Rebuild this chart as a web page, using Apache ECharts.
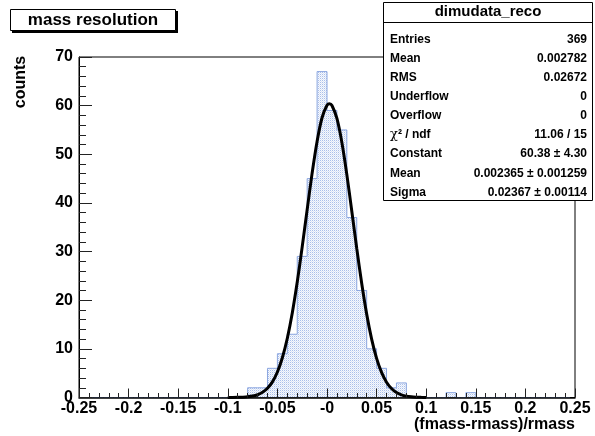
<!DOCTYPE html>
<html>
<head>
<meta charset="utf-8">
<script src="https://cdn.jsdelivr.net/npm/echarts@6/dist/echarts.min.js"></script>
<style>html,body{margin:0;padding:0;background:#fff;}#c{width:595px;height:436px;}</style>
</head>
<body>
<div id="c"></div>
<script>
// ---- data ----
const binLow = -0.25;
const binWidth = 0.01;
const binCounts = [
  0,0,0,0,0,0,0,0,0,0,
  0,0,0,0,0,0,0,2,2,6,
  9,13,29,45,67,59,55,37,22,10,
  6,2,3,0,0,0,0,1,0,1,
  0,0,0,0,0,0,0,0,0,0
];
const fitX = [-0.100,-0.095,-0.090,-0.085,-0.080,-0.075,-0.070,-0.065,-0.060,-0.055,
  -0.050,-0.045,-0.040,-0.035,-0.030,-0.025,-0.020,-0.015,-0.010,-0.005,
  0.000,0.0025,0.005,0.010,0.015,0.020,0.025,0.030,0.035,0.040,0.045,
  0.050,0.055,0.060,0.065,0.070,0.075,0.080,0.085,0.090,0.095,0.100];
const fitY = [0.01,0.01,0.03,0.07,0.14,0.29,0.57,1.06,1.89,3.21,
  5.24,8.17,12.19,17.38,23.73,30.96,38.63,46.12,52.65,57.51,
  60.07,60.38,60.02,57.36,52.42,45.82,38.30,30.63,23.43,17.14,12.01,
  8.03,5.15,3.15,1.85,1.03,0.55,0.28,0.14,0.07,0.03,0.01];
const xTickLabels = ['-0.25','-0.2','-0.15','-0.1','-0.05','-0','0.05','0.1','0.15','0.2','0.25'];
const yTickLabels = ['0','10','20','30','40','50','60','70'];
const statNames = ['Entries','Mean','RMS','Underflow','Overflow','{chi|χ}{b|² / ndf}','Constant','Mean','Sigma'];
const statValues = ['369','0.002782','0.02672','0','0','11.06 / 15','60.38 ± 4.30','0.002365 ± 0.001259','0.02367 ± 0.00114'];
const histTitle = 'mass resolution';
const statTitle = 'dimudata_reco';
const xTitle = '(fmass-rmass)/rmass';
const yTitle = 'counts';

// ---- build ----
const FONT = '"Liberation Sans", Arial, Helvetica, sans-serif';
const histData = binCounts.map((c, i) => [binLow + binWidth * (i + 0.5), c]);
const fitData = fitX.map((x, i) => [x, fitY[i]]);

// dotted fill pattern
const pc = document.createElement('canvas');
pc.width = 2; pc.height = 2;
const pctx = pc.getContext('2d');
pctx.fillStyle = '#f7f9fd'; pctx.fillRect(0, 0, 2, 2);
pctx.fillStyle = '#aabfea'; pctx.fillRect(0, 0, 1, 1);
pctx.fillStyle = '#dbe4f6'; pctx.fillRect(1, 1, 1, 1);

const chart = echarts.init(document.getElementById('c'), null, {renderer: 'canvas'});

const graphics = [];
// title box with shadow
graphics.push({type: 'rect', shape: {x: 12, y: 11, width: 166, height: 22}, style: {fill: '#000'}, z: 100});
graphics.push({type: 'rect', shape: {x: 10.5, y: 9.5, width: 165, height: 21}, style: {fill: '#fff', stroke: '#000', lineWidth: 1}, z: 101});
graphics.push({type: 'text', x: 93, y: 20.5, style: {text: histTitle, font: 'bold 17px ' + FONT, fill: '#000', align: 'center', verticalAlign: 'middle'}, z: 102});

// stats box
const sbX = 383.5, sbY = 2.5, sbW = 209, sbH = 198;
graphics.push({type: 'rect', shape: {x: sbX, y: sbY, width: sbW, height: sbH}, style: {fill: '#fff', stroke: '#000', lineWidth: 1}, z: 101});
graphics.push({type: 'text', x: sbX + sbW / 2, y: 12, style: {text: statTitle, font: 'bold 15px ' + FONT, fill: '#000', align: 'center', verticalAlign: 'middle'}, z: 102});
graphics.push({type: 'line', shape: {x1: sbX, y1: 22.5, x2: sbX + sbW, y2: 22.5}, style: {stroke: '#000', lineWidth: 1}, z: 102});
statNames.forEach((n, i) => {
  const y = 39.5 + 19.1 * i;
  graphics.push({type: 'text', x: 390, y: y, style: {
    text: n, font: 'bold 12px ' + FONT, fill: '#000', align: 'left', verticalAlign: 'middle',
    rich: {chi: {font: '13px "DejaVu Serif", serif', fill: '#000'}, b: {font: 'bold 12px ' + FONT, fill: '#000'}}
  }, z: 102});
  graphics.push({type: 'text', x: 587, y: y, style: {text: statValues[i], font: 'bold 12px ' + FONT, fill: '#000', align: 'right', verticalAlign: 'middle'}, z: 102});
});
// axis titles
graphics.push({type: 'text', x: 575, y: 425, style: {text: xTitle, font: 'bold 16px ' + FONT, fill: '#000', align: 'right', verticalAlign: 'middle'}, z: 102});
graphics.push({type: 'text', x: 21, y: 82, rotation: Math.PI / 2, style: {text: yTitle, font: 'bold 16px ' + FONT, fill: '#000', align: 'center', verticalAlign: 'middle'}, z: 102});

chart.setOption({
  animation: false,
  backgroundColor: '#fff',
  grid: {left: 79, right: 20, top: 57, bottom: 38.5, show: true, borderColor: '#000', borderWidth: 1, backgroundColor: 'transparent'},
  xAxis: {
    type: 'value', min: -0.25, max: 0.25, interval: 0.05, z: 5,
    axisLine: {show: true, onZero: false, lineStyle: {color: '#000', width: 1.5}},
    axisTick: {show: true, inside: true, length: 9, lineStyle: {color: '#222', width: 1}},
    minorTick: {show: true, splitNumber: 5, length: 4.5, lineStyle: {color: '#222', width: 1}},
    splitLine: {show: false},
    axisLabel: {show: true, margin: 3, showMinLabel: true, showMaxLabel: true, color: '#000', fontFamily: FONT, fontWeight: 'bold', fontSize: 16,
      formatter: v => xTickLabels[Math.round((v + 0.25) / 0.05)]}
  },
  yAxis: {
    type: 'value', min: 0, max: 70, interval: 10, z: 5,
    axisLine: {show: true, onZero: false, lineStyle: {color: '#000', width: 1}},
    axisTick: {show: true, inside: true, length: 13, lineStyle: {color: '#222', width: 1}},
    minorTick: {show: true, splitNumber: 5, length: 7, lineStyle: {color: '#222', width: 1}},
    splitLine: {show: false},
    axisLabel: {show: true, margin: 6, color: '#000', fontFamily: FONT, fontWeight: 'bold', fontSize: 16,
      formatter: v => yTickLabels[Math.round(v / 10)]}
  },
  series: [
    {
      type: 'line', data: histData, step: 'middle', symbol: 'none', z: 2,
      lineStyle: {color: '#8ba6e0', width: 1},
      areaStyle: {color: {image: pc, repeat: 'repeat'}, opacity: 1}
    },
    {
      type: 'line', data: fitData, smooth: 0.3, symbol: 'none', z: 3,
      lineStyle: {color: '#000', width: 3}
    }
  ],
  graphic: graphics
});
</script>
</body>
</html>
